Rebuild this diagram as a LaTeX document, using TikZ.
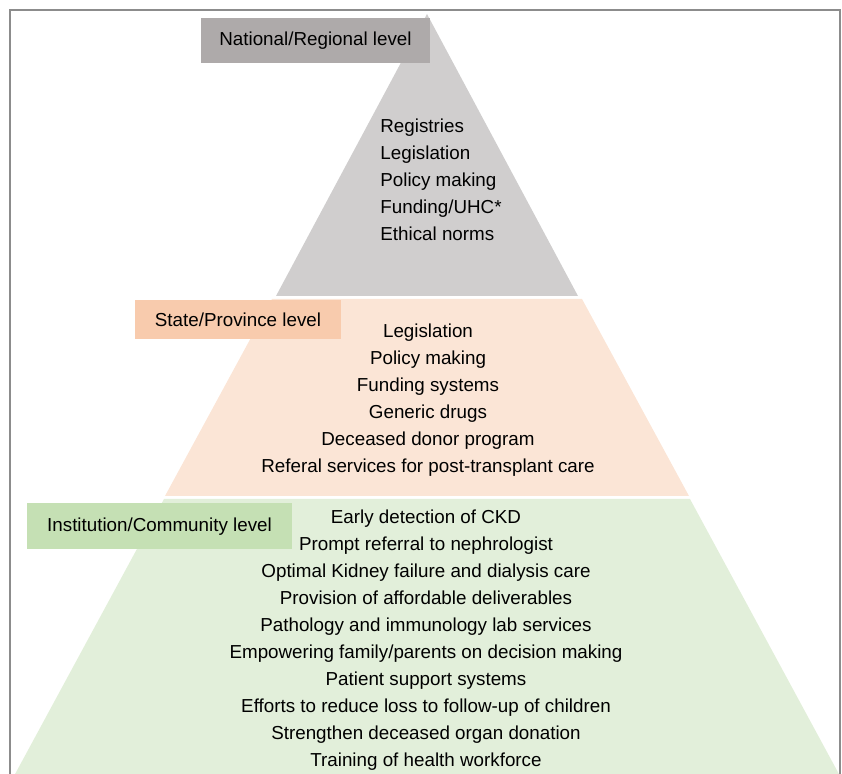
\documentclass[tikz,border=0pt]{standalone}
\usepackage{fontspec}
\setmainfont{Liberation Sans}
\usepackage{tikz}
\usetikzlibrary{positioning,calc}
\definecolor{natFill}{HTML}{D0CECE}
\definecolor{natBox}{HTML}{AEAAAA}
\definecolor{stateFill}{HTML}{FBE5D6}
\definecolor{stateBox}{HTML}{F8CBAD}
\definecolor{instFill}{HTML}{E2EFDA}
\definecolor{instBox}{HTML}{C5E0B4}
\definecolor{frameGrey}{HTML}{8C8C8C}

\begin{document}
\begin{tikzpicture}[
    x=0.5pt, y=-0.5pt,
    level/.style={rectangle, inner sep=0pt, minimum height=22.5pt, font=\fontsize{9.4}{11}\selectfont},
    items/.style={inner sep=0pt, font=\fontsize{9.4}{13.5}\selectfont},
    frame/.style={draw=frameGrey, line width=0.6pt}
]
\useasboundingbox (0,0) rectangle (842,774);

% Frame
\draw[frame] (10,780) -- (10,10) -- (840,10) -- (840,780);

% Pyramid bands
\fill[natFill] (427,14) -- (578,296) -- (276,296) -- cycle;
\fill[stateFill] (272,299) -- (582,299) -- (689,496) -- (165,496) -- cycle;
\fill[instFill] (164,499) -- (690,499) -- (840,776) -- (14,776) -- cycle;

% Level labels
\node[level, fill=natBox, minimum width=114.5pt] (natlvl) at (315.5,40.5) {National/Regional level};
\node[level, fill=stateBox, minimum width=103pt, minimum height=19.5pt] (statelvl) at (238,320) {State/Province level};
\node[level, fill=instBox, minimum width=132.5pt, minimum height=23pt] (instlvl) at (159.5,526.5) {Institution/Community level};

% Contents of each level
\node[items, align=left, anchor=north west] (natitems) at (380,118) {Registries\\Legislation\\Policy making\\Funding/UHC*\\Ethical norms};
\node[items, align=center, anchor=north] (stateitems) at (428,323) {Legislation\\Policy making\\Funding systems\\Generic drugs\\Deceased donor program\\Referal services for post-transplant care};
\node[items, align=center, anchor=north] (institems) at (426,509) {Early detection of CKD\\Prompt referral to nephrologist\\Optimal Kidney failure and dialysis care\\Provision of affordable deliverables\\Pathology and immunology lab services\\Empowering family/parents on decision making\\Patient support systems\\Efforts to reduce loss to follow-up of children\\Strengthen deceased organ donation\\Training of health workforce};
\end{tikzpicture}
\end{document}
